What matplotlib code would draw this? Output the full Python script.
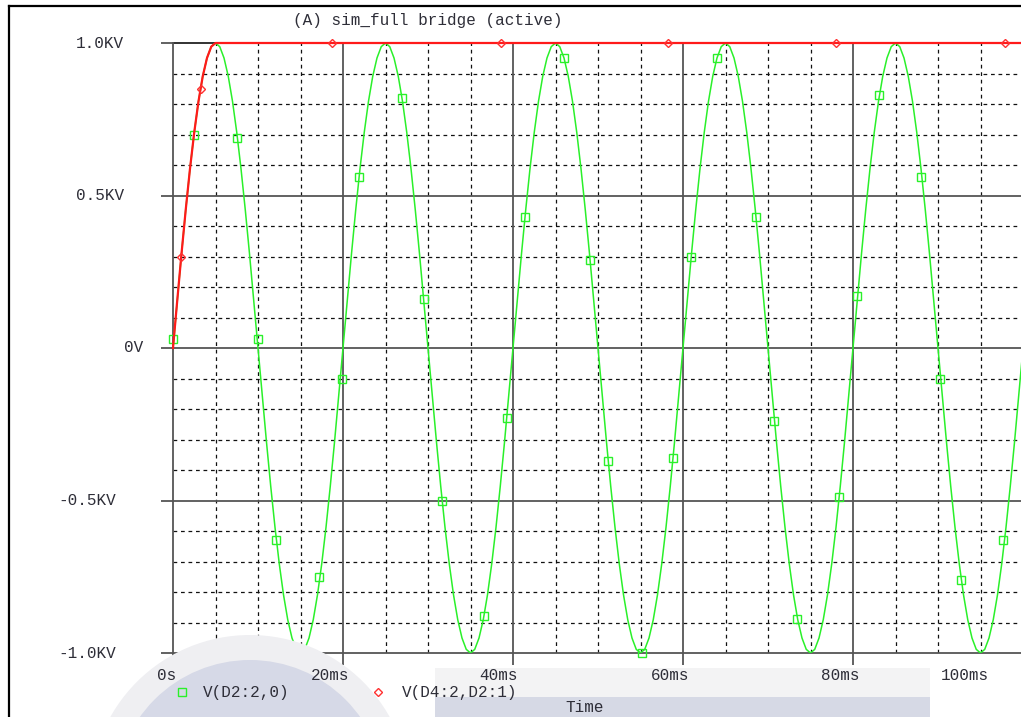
import numpy as np
import matplotlib.pyplot as plt
from matplotlib import transforms
from matplotlib.patches import Ellipse, Rectangle
from matplotlib.lines import Line2D

# --- data (voltage in kV, time in ms) ---
# V(D2:2,0): source sine sampled every 0.5 ms
t_green = np.arange(0, 100.5, 0.5)
v_green = [
    0.000, 0.156, 0.309, 0.454, 0.588, 0.707, 0.809, 0.891, 0.951, 0.988,
    1.000, 0.988, 0.951, 0.891, 0.809, 0.707, 0.588, 0.454, 0.309, 0.156,
    0.000, -0.156, -0.309, -0.454, -0.588, -0.707, -0.809, -0.891, -0.951, -0.988,
    -1.000, -0.988, -0.951, -0.891, -0.809, -0.707, -0.588, -0.454, -0.309, -0.156,
    0.000, 0.156, 0.309, 0.454, 0.588, 0.707, 0.809, 0.891, 0.951, 0.988,
    1.000, 0.988, 0.951, 0.891, 0.809, 0.707, 0.588, 0.454, 0.309, 0.156,
    0.000, -0.156, -0.309, -0.454, -0.588, -0.707, -0.809, -0.891, -0.951, -0.988,
    -1.000, -0.988, -0.951, -0.891, -0.809, -0.707, -0.588, -0.454, -0.309, -0.156,
    0.000, 0.156, 0.309, 0.454, 0.588, 0.707, 0.809, 0.891, 0.951, 0.988,
    1.000, 0.988, 0.951, 0.891, 0.809, 0.707, 0.588, 0.454, 0.309, 0.156,
    0.000, -0.156, -0.309, -0.454, -0.588, -0.707, -0.809, -0.891, -0.951, -0.988,
    -1.000, -0.988, -0.951, -0.891, -0.809, -0.707, -0.588, -0.454, -0.309, -0.156,
    0.000, 0.156, 0.309, 0.454, 0.588, 0.707, 0.809, 0.891, 0.951, 0.988,
    1.000, 0.988, 0.951, 0.891, 0.809, 0.707, 0.588, 0.454, 0.309, 0.156,
    0.000, -0.156, -0.309, -0.454, -0.588, -0.707, -0.809, -0.891, -0.951, -0.988,
    -1.000, -0.988, -0.951, -0.891, -0.809, -0.707, -0.588, -0.454, -0.309, -0.156,
    0.000, 0.156, 0.309, 0.454, 0.588, 0.707, 0.809, 0.891, 0.951, 0.988,
    1.000, 0.988, 0.951, 0.891, 0.809, 0.707, 0.588, 0.454, 0.309, 0.156,
    0.000, -0.156, -0.309, -0.454, -0.588, -0.707, -0.809, -0.891, -0.951, -0.988,
    -1.000, -0.988, -0.951, -0.891, -0.809, -0.707, -0.588, -0.454, -0.309, -0.156,
    0.000,
]
green_mark_t = [0.0, 2.5, 7.5, 10.0, 12.1, 17.2, 19.9, 21.9, 26.9, 29.5, 31.6,
                36.6, 39.3, 41.4, 46.0, 49.1, 51.2, 55.2, 58.8, 60.9, 64.0,
                68.6, 70.7, 73.4, 78.4, 80.5, 83.1, 88.0, 90.2, 92.7, 97.6]
green_mark_v = [0.03, 0.70, 0.69, 0.03, -0.63, -0.75, -0.10, 0.56, 0.82, 0.16, -0.50,
                -0.88, -0.23, 0.43, 0.95, 0.29, -0.37, -1.00, -0.36, 0.30, 0.95,
                0.43, -0.24, -0.89, -0.49, 0.17, 0.83, 0.56, -0.10, -0.76, -0.63]

# V(D4:2,D2:1): follows the sine to the first peak, then holds
t_red = [0.0, 0.5, 1.0, 1.5, 2.0, 2.5, 3.0, 3.5, 4.0, 4.5, 5.0, 100.0]
v_red = [0.000, 0.156, 0.309, 0.454, 0.588, 0.707, 0.809, 0.891, 0.951, 0.988, 1.000, 1.000]
red_mark_t = [0.9, 3.3, 18.7, 38.6, 58.2, 78.0, 97.9]
red_mark_v = [0.30, 0.85, 1.0, 1.0, 1.0, 1.0, 1.0]

y_ticks = [1.0, 0.5, 0.0, -0.5, -1.0]
y_labels = ["1.0KV", "0.5KV", "0V", "-0.5KV", "-1.0KV"]
x_ticks = [0, 20, 40, 60, 80, 100]
x_labels = ["0s", "20ms", "40ms", "60ms", "80ms", "100ms"]

title = "(A) sim_full bridge (active)"
legend_labels = ["V(D2:2,0)", "V(D4:2,D2:1)"]

W, H = 1021, 717
mono = ["Liberation Mono", "DejaVu Sans Mono"]
txt_col = "#2e2e38"
fs = 11.5
green = "#2af02a"


def fx(x):
    return x / W


def fy(y):
    return 1 - y / H


fig = plt.figure(figsize=(W / 100, H / 100), dpi=100)

# background decorations (watermark circle and toolbar strip)
fig.patches.append(Ellipse((fx(250), fy(795)), 2 * 160 / W, 2 * 160 / H,
                           transform=fig.transFigure, facecolor="#efeff2",
                           edgecolor="none", zorder=0))
fig.patches.append(Ellipse((fx(250), fy(795)), 2 * 135 / W, 2 * 135 / H,
                           transform=fig.transFigure, facecolor="#d6d9e7",
                           edgecolor="none", zorder=0))
fig.patches.append(Rectangle((fx(435), fy(697)), (930 - 435) / W, 29 / H,
                             transform=fig.transFigure, facecolor="#f3f3f4",
                             edgecolor="none", zorder=0))
fig.patches.append(Rectangle((fx(435), fy(717)), (930 - 435) / W, 20 / H,
                             transform=fig.transFigure, facecolor="#d6d9e5",
                             edgecolor="none", zorder=0))

# window frame lines
fig.add_artist(Line2D([fx(9), fx(1021)], [fy(6), fy(6)], color="black", lw=1.6))
fig.add_artist(Line2D([fx(9), fx(9)], [fy(6), fy(717)], color="black", lw=1.6))

ax = fig.add_axes([fx(173), fy(653), (1023 - 173) / W, (653 - 43) / H])
ax.patch.set_alpha(0)
ax.set_xlim(0, 100)
ax.set_ylim(-1.0, 1.0)

major_col = "#555555"
for s in ["top", "right"]:
    ax.spines[s].set_visible(False)
for s in ["left", "bottom"]:
    ax.spines[s].set_color(major_col)
    ax.spines[s].set_linewidth(1.3)

# grid
dash = (0, (3.0, 3.0))
for v in np.arange(-0.9, 1.0, 0.1):
    if abs(round(v * 10) % 5) != 0:
        ax.axhline(v, color="#111111", lw=0.9, ls=dash, zorder=1)
for t in range(5, 100, 5):
    if t % 20 != 0:
        ax.axvline(t, color="#111111", lw=0.9, ls=dash, zorder=1)
for v in [0.5, 0.0, -0.5]:
    ax.axhline(v, color=major_col, lw=1.3, zorder=1)
ax.axhline(1.0, color="#222222", lw=1.3, zorder=1, clip_on=False)
for t in [20, 40, 60, 80]:
    ax.axvline(t, color=major_col, lw=1.3, zorder=1)

ax.set_xticks(x_ticks)
ax.set_yticks(y_ticks)
ax.set_xticklabels([])
ax.set_yticklabels([])
ax.tick_params(direction="out", length=8.6, width=1.3, color=major_col)

# traces
ax.plot(t_green, v_green, color=green, lw=1.1, zorder=3)
ax.plot(green_mark_t, green_mark_v, ls="none", marker="s", ms=5.5, mfc="none",
        mec=green, mew=1.0, zorder=4, clip_on=False)
ax.plot(t_red, v_red, color="#ff1a1a", lw=1.6, zorder=5, clip_on=False)
ax.plot(red_mark_t, red_mark_v, ls="none", marker="D", ms=4.0, mfc="none",
        mec="#ff3030", mew=1.0, zorder=6, clip_on=False)

# y tick labels
ytr = transforms.blended_transform_factory(fig.transFigure, ax.transData)
y_left = [76, 76, 124, 58, 58]
for v, lab, xl in zip(y_ticks, y_labels, y_left):
    fig.text(fx(xl), v, lab, transform=ytr, ha="left", va="center",
             family=mono, fontsize=fs, color=txt_col)

# x tick labels
xtr = transforms.blended_transform_factory(ax.transData, fig.transFigure)
x_off = [3, 6, 5, 6, 6, -34]
for t, lab, dx in zip(x_ticks, x_labels, x_off):
    tr = transforms.offset_copy(xtr, fig, x=dx, units="dots")
    fig.text(t, fy(675), lab, transform=tr, ha="right", va="center",
             family=mono, fontsize=fs, color=txt_col)

# title
fig.text(fx(428), fy(20), title, ha="center", va="center", family=mono,
         fontsize=fs, color=txt_col)

# legend
fig.add_artist(Line2D([fx(182)], [fy(692)], ls="none", marker="s", ms=5.5,
                      mfc="none", mec=green, mew=1.0))
fig.text(fx(203), fy(692), legend_labels[0], ha="left", va="center",
         family=mono, fontsize=fs, color=txt_col)
fig.add_artist(Line2D([fx(378)], [fy(692)], ls="none", marker="D", ms=4.0,
                      mfc="none", mec="#ff3030", mew=1.0))
fig.text(fx(402), fy(692), legend_labels[1], ha="left", va="center",
         family=mono, fontsize=fs, color=txt_col)

fig.text(fx(585), fy(708), "Time", ha="center", va="center", family=mono,
         fontsize=fs, color=txt_col)

fig.savefig("out.png", dpi=100)
